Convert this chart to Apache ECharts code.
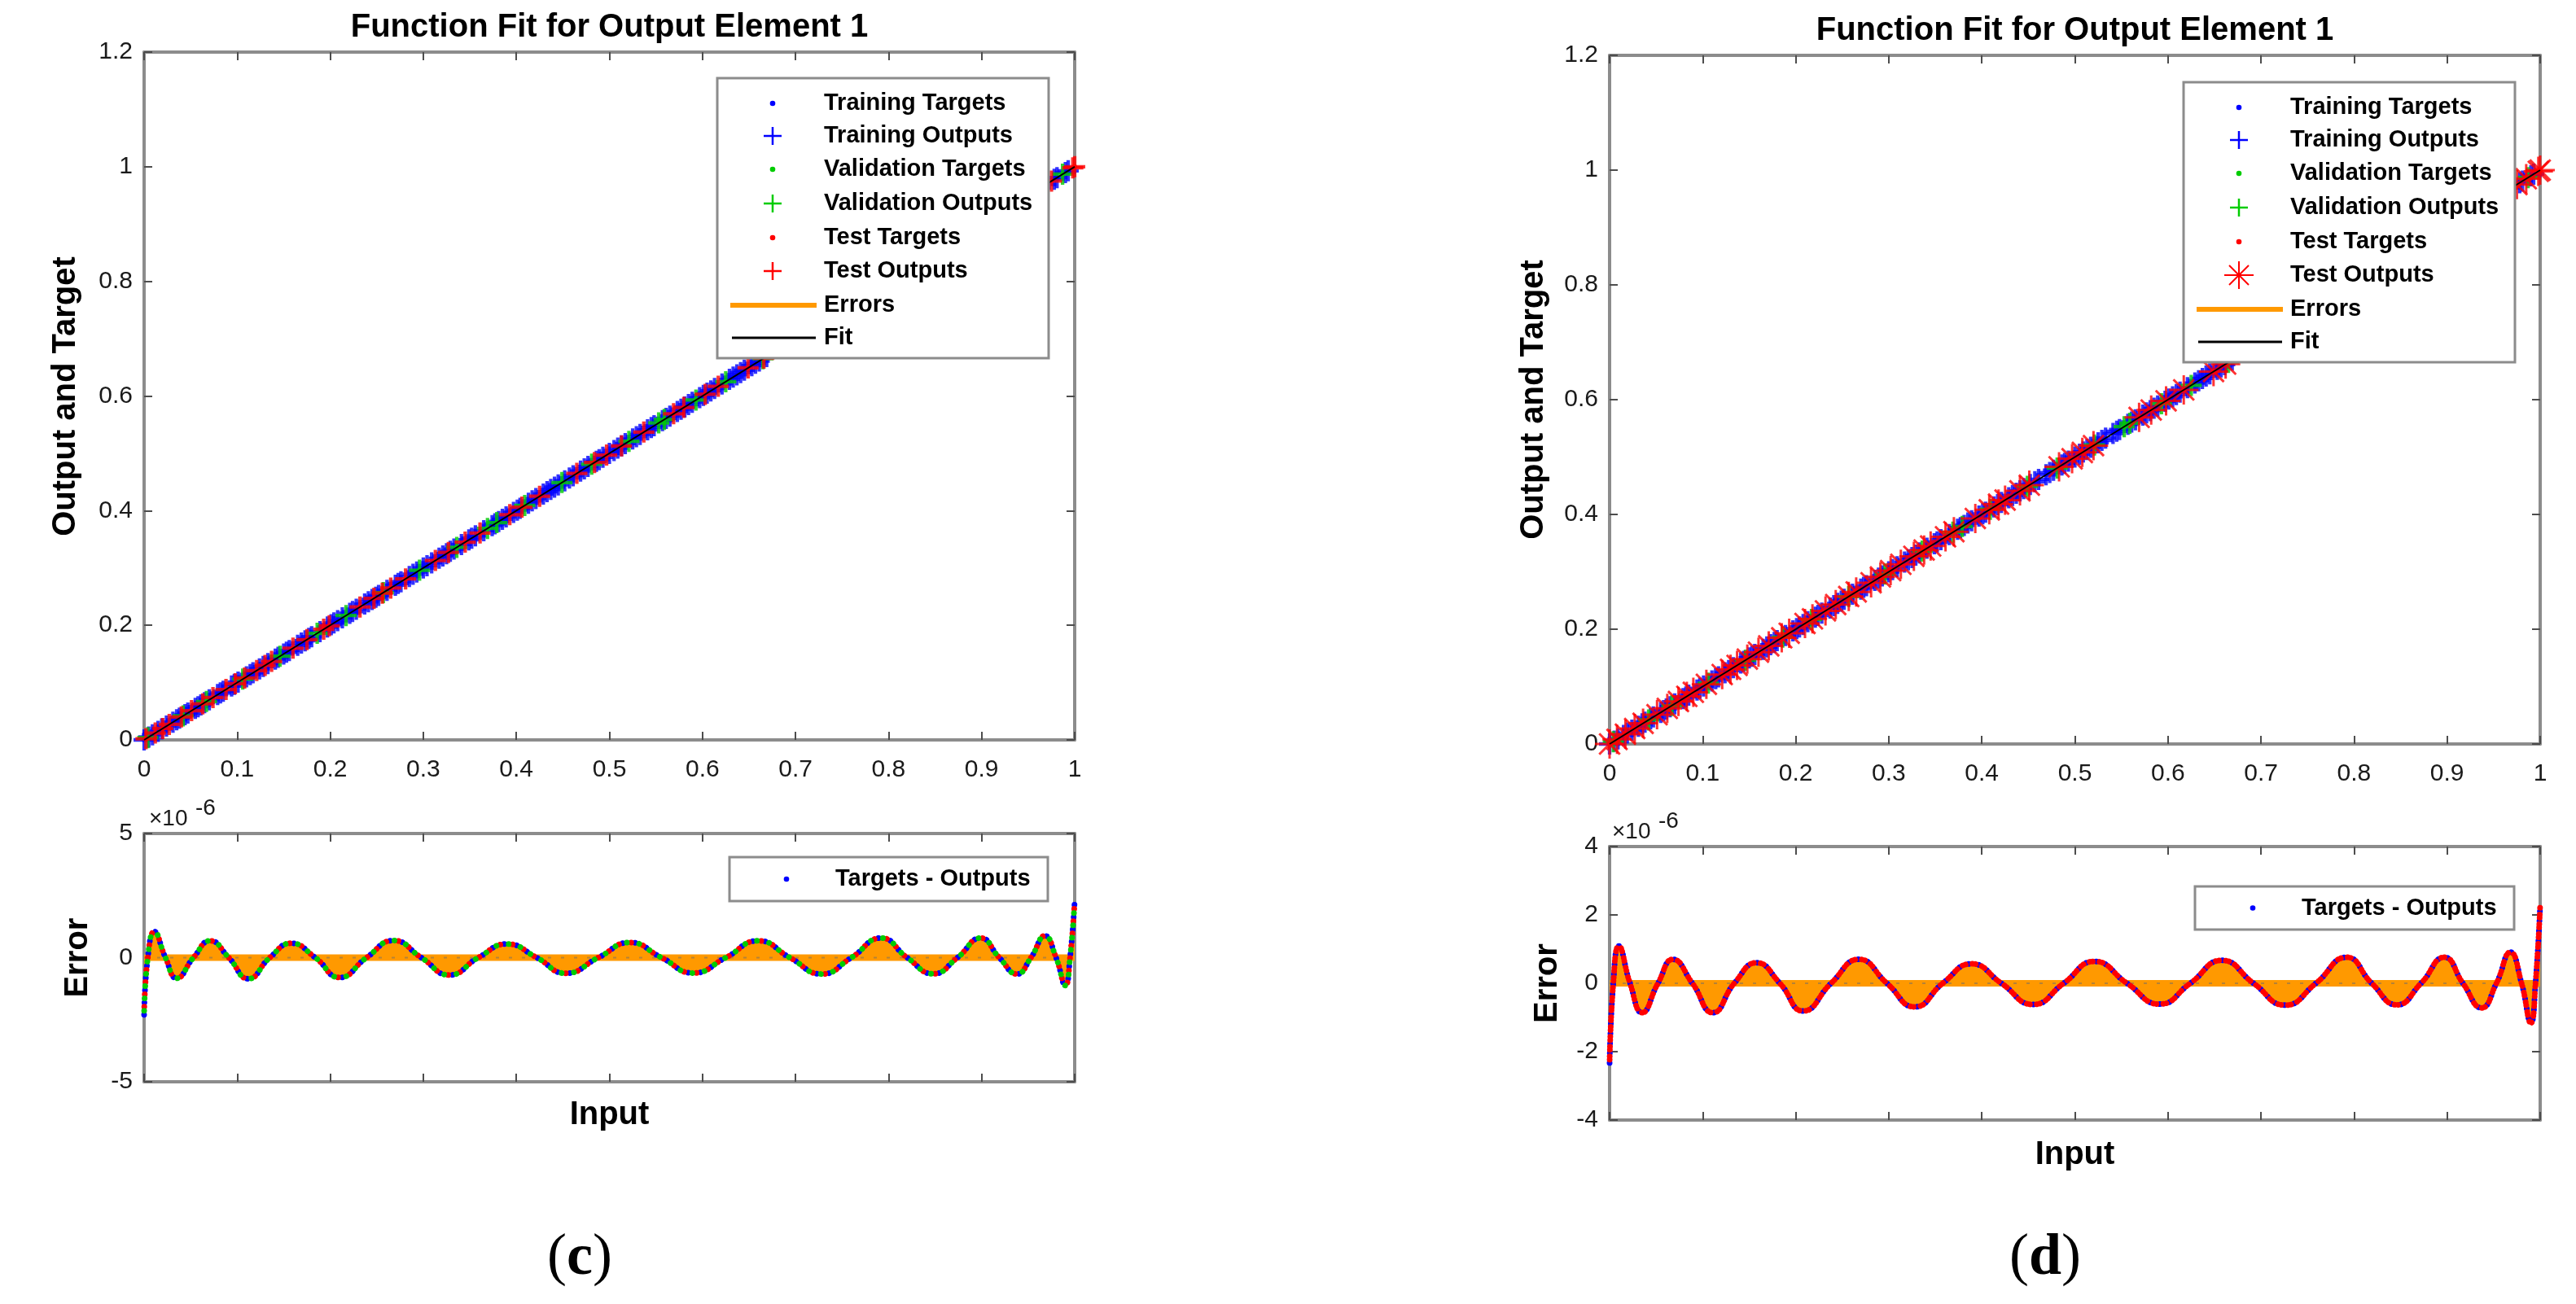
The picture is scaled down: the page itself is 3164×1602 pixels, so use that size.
<!DOCTYPE html>
<html lang="en">
<head>
    <meta charset="UTF-8">
    <title>Function Fit for Output Element 1</title>
    <script src="https://cdn.jsdelivr.net/npm/echarts@6.0.0/dist/echarts.min.js"></script>
    <style>
        body { margin: 0; padding: 0; background: #fff; }
        #chart { width: 3164px; height: 1602px; }
    </style>
</head>
<body>
    <div id="chart"></div>
    <script>
        // ---- data: inputs of each subset (targets equal inputs for this fit) ----
        const trainIn = [0.000, 0.005, 0.009, 0.015, 0.019, 0.024, 0.031, 0.035, 0.038, 0.044, 0.047, 0.055, 0.058, 0.061, 0.065, 0.070, 0.079, 0.082, 0.085, 0.094, 0.097, 0.101, 0.110, 0.114, 0.117, 0.124, 0.128, 0.133, 0.141, 0.144, 0.150, 0.153, 0.156, 0.165, 0.169, 0.173, 0.177, 0.180, 0.189, 0.197, 0.201, 0.204, 0.208, 0.213, 0.221, 0.224, 0.228, 0.237, 0.241, 0.245, 0.249, 0.252, 0.261, 0.270, 0.273, 0.276, 0.285, 0.289, 0.293, 0.300, 0.304, 0.309, 0.317, 0.321, 0.325, 0.329, 0.333, 0.341, 0.349, 0.352, 0.356, 0.365, 0.374, 0.377, 0.381, 0.385, 0.389, 0.397, 0.401, 0.404, 0.413, 0.417, 0.421, 0.429, 0.433, 0.437, 0.441, 0.445, 0.452, 0.457, 0.461, 0.469, 0.473, 0.477, 0.486, 0.489, 0.493, 0.500, 0.505, 0.509, 0.513, 0.517, 0.525, 0.529, 0.533, 0.541, 0.545, 0.548, 0.557, 0.561, 0.565, 0.573, 0.577, 0.581, 0.585, 0.589, 0.597, 0.601, 0.605, 0.609, 0.613, 0.621, 0.629, 0.633, 0.637, 0.641, 0.645, 0.653, 0.657, 0.661, 0.669, 0.685, 0.701, 0.717, 0.733, 0.749, 0.765, 0.781, 0.797, 0.813, 0.829, 0.845, 0.861, 0.877, 0.893, 0.909, 0.925, 0.941, 0.957, 0.963, 0.969, 0.978, 0.981, 0.990, 0.993];
        const valIn = [0.004, 0.042, 0.067, 0.106, 0.146, 0.186, 0.217, 0.257, 0.296, 0.336, 0.369, 0.379, 0.409, 0.449, 0.481, 0.521, 0.553, 0.559, 0.593, 0.625, 0.665, 0.741, 0.853, 0.949, 0.987];
        const testInC = [0.002, 0.012, 0.020, 0.027, 0.040, 0.051, 0.063, 0.074, 0.088, 0.098, 0.108, 0.121, 0.130, 0.137, 0.160, 0.175, 0.193, 0.199, 0.232, 0.247, 0.256, 0.265, 0.281, 0.313, 0.327, 0.345, 0.361, 0.393, 0.406, 0.425, 0.465, 0.484, 0.497, 0.513, 0.537, 0.569, 0.580, 0.603, 0.617, 0.649, 0.666, 0.693, 0.805, 0.917, 0.975, 0.998, 1.000];
        const testInD = [0.000, 0.008, 0.017, 0.027, 0.036, 0.051, 0.062, 0.074, 0.083, 0.090, 0.104, 0.121, 0.130, 0.137, 0.148, 0.160, 0.171, 0.185, 0.193, 0.210, 0.218, 0.232, 0.243, 0.257, 0.265, 0.281, 0.291, 0.302, 0.313, 0.327, 0.338, 0.345, 0.361, 0.370, 0.393, 0.408, 0.418, 0.425, 0.441, 0.451, 0.483, 0.497, 0.508, 0.520, 0.569, 0.582, 0.598, 0.617, 0.649, 0.662, 0.693, 0.805, 0.917, 0.975, 0.985, 0.998, 1.000];

        // ---- error curves (x1e-6), read at extrema and zero crossings ----
        const errXC = [0.000, 0.004, 0.011, 0.023, 0.035, 0.053, 0.071, 0.091, 0.112, 0.135, 0.158, 0.184, 0.210, 0.239, 0.268, 0.298, 0.328, 0.359, 0.390, 0.422, 0.453, 0.488, 0.522, 0.556, 0.590, 0.625, 0.660, 0.694, 0.728, 0.760, 0.792, 0.820, 0.848, 0.874, 0.899, 0.919, 0.938, 0.953, 0.968, 0.980, 0.990, 0.995, 1.000];
        const errYC = [-2.30, 0, 1.05, 0, -0.83, 0, 0.68, 0, -0.85, 0, 0.58, 0, -0.80, 0, 0.69, 0, -0.70, 0, 0.55, 0, -0.63, 0, 0.61, 0, -0.62, 0, 0.68, 0, -0.66, 0, 0.79, 0, -0.65, 0, 0.79, 0, -0.66, 0, 0.88, 0, -1.12, 0, 2.27];
        const errXD = [0.000, 0.004, 0.010, 0.022, 0.035, 0.052, 0.068, 0.089, 0.111, 0.134, 0.158, 0.183, 0.208, 0.238, 0.268, 0.298, 0.328, 0.358, 0.389, 0.421, 0.455, 0.488, 0.521, 0.556, 0.591, 0.624, 0.658, 0.692, 0.726, 0.759, 0.792, 0.819, 0.846, 0.872, 0.897, 0.917, 0.937, 0.953, 0.968, 0.980, 0.990, 0.995, 1.000];
        const errYD = [-2.33, 0, 1.09, 0, -0.86, 0, 0.70, 0, -0.86, 0, 0.60, 0, -0.81, 0, 0.70, 0, -0.69, 0, 0.57, 0, -0.62, 0, 0.64, 0, -0.61, 0, 0.67, 0, -0.64, 0, 0.76, 0, -0.63, 0, 0.76, 0, -0.72, 0, 0.91, 0, -1.16, 0, 2.29];

        // shared
        const fitX = [0, 1];
        const zeroX = [0, 1];
        const xRange = [0, 1, 0.1];
        const yRangeTop = [0, 1.2, 0.2];
        const yRangeErrC = [-5, 5, 5];
        const yRangeErrD = [-4, 4, 2];
        const legendNames = ['Training Targets', 'Training Outputs', 'Validation Targets', 'Validation Outputs', 'Test Targets', 'Test Outputs', 'Errors', 'Fit'];

        const SANS = "'Liberation Sans', Arial, Helvetica, sans-serif";
        const SERIF = "'Liberation Serif', 'DejaVu Serif', serif";
        const BLUE = '#0000ff', GREEN = '#00cc00', RED = '#ff0000', ORANGE = '#ff9900';
        const plusPath = 'path://M-1.8,-11 L1.8,-11 L1.8,-1.8 L11,-1.8 L11,1.8 L1.8,1.8 L1.8,11 L-1.8,11 L-1.8,1.8 L-11,1.8 L-11,-1.8 L-1.8,-1.8 Z';
        const starPath = 'path://M-17,0 L17,0 M0,-17 L0,17 M-12,-12 L12,12 M-12,12 L12,-12';

        const chart = echarts.init(document.getElementById('chart'));

        // grids: 0 = (c) top, 1 = (c) error, 2 = (d) top, 3 = (d) error
        const grids = [
            { left: 177, top: 64, width: 1143, height: 845 },
            { left: 177, top: 1024, width: 1143, height: 305 },
            { left: 1977, top: 68, width: 1143, height: 846 },
            { left: 1977, top: 1040, width: 1143, height: 336 }
        ].map(g => Object.assign({ show: false, containLabel: false, outerBoundsMode: 'none' }, g));

        function axisCommon(range, labels, margin) {
            return {
                type: 'value', min: range[0], max: range[1], interval: range[2],
                axisLine: { show: true, onZero: false, lineStyle: { color: '#8c8c8c', width: 4 } },
                axisTick: { show: true, inside: true, length: 10, lineStyle: { color: '#4d4d4d', width: 2 } },
                axisLabel: { show: labels, color: '#1a1a1a', fontSize: 30, fontFamily: SANS, margin: margin },
                splitLine: { show: false }
            };
        }

        const xAxes = [], yAxes = [];
        [[xRange, yRangeTop, true], [xRange, yRangeErrC, false], [xRange, yRangeTop, true], [xRange, yRangeErrD, false]].forEach((r, g) => {
            xAxes.push(Object.assign(axisCommon(r[0], r[2], 22), { gridIndex: g, position: 'bottom' }));
            xAxes.push(Object.assign(axisCommon(r[0], false, 22), { gridIndex: g, position: 'top' }));
            yAxes.push(Object.assign(axisCommon(r[1], true, 14), { gridIndex: g, position: 'left' }));
            yAxes.push(Object.assign(axisCommon(r[1], false, 14), { gridIndex: g, position: 'right' }));
        });

        function onLine(xs) { return xs.map(v => [v, v]); }

        function scatter(name, xs, g, symbol, size, color, stroke) {
            return {
                name: name, type: 'scatter', xAxisIndex: g * 2, yAxisIndex: g * 2,
                data: onLine(xs), symbol: symbol, symbolSize: size, silent: true,
                itemStyle: stroke ? { color: color, borderColor: color, borderWidth: 3 } : { color: color }
            };
        }

        function fitSeries(g) {
            return {
                name: 'Fit', type: 'line', xAxisIndex: g * 2, yAxisIndex: g * 2,
                data: fitX.map(v => [v, v]), showSymbol: false, silent: true,
                lineStyle: { color: '#000', width: 2 }
            };
        }

        function errorSeries(g, xs, ys, dots) {
            const data = xs.map((x, i) => [x, ys[i]]);
            const ax = { xAxisIndex: g * 2, yAxisIndex: g * 2 };
            const list = [
                Object.assign({
                    name: 'Errors', type: 'line', data: data, smooth: 0.5, showSymbol: false, silent: true,
                    lineStyle: { width: 0, opacity: 0 }, areaStyle: { color: ORANGE, opacity: 1, origin: 0 }
                }, ax),
                Object.assign({
                    name: 'Errors', type: 'line', data: zeroX.map(x => [x, 0]), showSymbol: false, silent: true,
                    lineStyle: { color: ORANGE, width: 8 }
                }, ax),
                Object.assign({
                    name: 'Zero', type: 'line', data: zeroX.map(x => [x, 0]), showSymbol: false, silent: true,
                    lineStyle: { color: '#6b6b6b', width: 2, type: [4, 12], opacity: 0.5 }
                }, ax)
            ];
            dots.forEach(d => {
                list.push(Object.assign({
                    name: 'Targets - Outputs', type: 'line', data: data, smooth: 0.5, showSymbol: false, silent: true,
                    lineStyle: { color: d[0], width: 7, type: [0.1, d[2]], dashOffset: d[1], cap: 'round' }
                }, ax));
            });
            return list;
        }

        const series = [
            fitSeries(0),
            scatter(legendNames[0], trainIn, 0, 'circle', 6, BLUE),
            scatter(legendNames[1], trainIn, 0, plusPath, 26, BLUE),
            scatter(legendNames[2], valIn, 0, 'circle', 6, GREEN),
            scatter(legendNames[3], valIn, 0, plusPath, 26, GREEN),
            scatter(legendNames[4], testInC, 0, 'circle', 6, RED),
            scatter(legendNames[5], testInC, 0, plusPath, 26, RED),
            ...errorSeries(1, errXC, errYC, [[BLUE, 0, 15], [RED, 5, 15], [GREEN, 10, 15]]),
            fitSeries(2),
            scatter(legendNames[0], trainIn, 2, 'circle', 6, BLUE),
            scatter(legendNames[1], trainIn, 2, plusPath, 26, BLUE),
            scatter(legendNames[2], valIn, 2, 'circle', 6, GREEN),
            scatter(legendNames[3], valIn, 2, plusPath, 26, GREEN),
            scatter(legendNames[4], testInD, 2, 'circle', 6, RED),
            scatter(legendNames[5], testInD, 2, starPath, 36, RED, true),
            ...errorSeries(3, errXD, errYD, [[BLUE, 0, 12], [RED, 4, 12], [RED, 8, 12]])
        ];

        // ---- text and legend boxes ----
        function txt(x, y, text, size, opts) {
            opts = opts || {};
            return {
                type: 'text', x: x, y: y, z: 100, rotation: opts.rot || 0, silent: true,
                style: {
                    text: text, fill: opts.color || '#000',
                    font: (opts.weight || 'bold') + ' ' + size + 'px ' + (opts.family || SANS),
                    textAlign: opts.align || 'center', align: opts.align || 'center',
                    textVerticalAlign: 'middle', verticalAlign: 'middle'
                }
            };
        }
        function panelLabel(x, y, letter) {
            return {
                type: 'text', x: x, y: y, z: 100, silent: true,
                style: {
                    text: '{p|(}{l|' + letter + '}{p|)}', fill: '#000',
                    textAlign: 'center', align: 'center', textVerticalAlign: 'middle', verticalAlign: 'middle',
                    rich: {
                        p: { fontSize: 72, fontFamily: SERIF, fontWeight: 'normal', fill: '#000' },
                        l: { fontSize: 72, fontFamily: SERIF, fontWeight: 'bold', fill: '#000' }
                    }
                }
            };
        }
        function seg(x1, y1, x2, y2, color, w) {
            return { type: 'line', z: 101, silent: true, shape: { x1: x1, y1: y1, x2: x2, y2: y2 }, style: { stroke: color, lineWidth: w } };
        }
        function dot(cx, cy, color) {
            return { type: 'circle', z: 101, silent: true, shape: { cx: cx, cy: cy, r: 3.3 }, style: { fill: color } };
        }
        function plus(cx, cy, color) {
            return [seg(cx - 11, cy, cx + 11, cy, color, 2.5), seg(cx, cy - 11, cx, cy + 11, color, 2.5)];
        }
        function star(cx, cy, color) {
            return [seg(cx - 18, cy, cx + 18, cy, color, 2), seg(cx, cy - 17, cx, cy + 17, color, 2),
                seg(cx - 12, cy - 12, cx + 12, cy + 12, color, 2), seg(cx - 12, cy + 12, cx + 12, cy - 12, color, 2)];
        }

        function topLegend(ox, oy, testStar) {
            const rows = [127, 167, 208, 250, 292, 333, 375, 415].map(v => v + oy);
            const sx = 949 + ox, tx = 1012 + ox;
            const els = [{
                type: 'rect', z: 99, silent: true,
                shape: { x: 881 + ox, y: 96 + oy, width: 407, height: 344 },
                style: { fill: '#fff', stroke: '#8c8c8c', lineWidth: 3 }
            }];
            els.push(dot(sx, rows[0], BLUE), ...plus(sx, rows[1], BLUE));
            els.push(dot(sx, rows[2], GREEN), ...plus(sx, rows[3], GREEN));
            els.push(dot(sx, rows[4], RED), ...(testStar ? star(sx, rows[5], RED) : plus(sx, rows[5], RED)));
            els.push(seg(897 + ox, rows[6], 1003 + ox, rows[6], ORANGE, 6));
            els.push(seg(899 + ox, rows[7], 1002 + ox, rows[7], '#000', 3));
            legendNames.forEach((n, i) => els.push(txt(tx, rows[i], n, 29, { align: 'left' })));
            return els;
        }

        function errLegend(x, y, w, h, dx, tx) {
            const cy = y + h / 2;
            return [
                { type: 'rect', z: 99, silent: true, shape: { x: x, y: y, width: w, height: h }, style: { fill: '#fff', stroke: '#8c8c8c', lineWidth: 3 } },
                dot(dx, cy, BLUE),
                txt(tx, cy, 'Targets - Outputs', 29, { align: 'left' })
            ];
        }

        function expLabel(x, y) {
            return [
                txt(x, y, '\u00d710', 28, { align: 'left', weight: 'normal', color: '#1a1a1a' }),
                txt(x + 57, y - 13, '-6', 28, { align: 'left', weight: 'normal', color: '#1a1a1a' })
            ];
        }

        const graphics = [
            txt(748.5, 34, 'Function Fit for Output Element 1', 40),
            txt(2548.5, 38, 'Function Fit for Output Element 1', 40),
            txt(81, 487, 'Output and Target', 40, { rot: Math.PI / 2 }),
            txt(1884, 491, 'Output and Target', 40, { rot: Math.PI / 2 }),
            txt(96, 1176.5, 'Error', 40, { rot: Math.PI / 2 }),
            txt(1901, 1208, 'Error', 40, { rot: Math.PI / 2 }),
            txt(748.5, 1370, 'Input', 40),
            txt(2548.5, 1419, 'Input', 40),
            panelLabel(712, 1546, 'c'),
            panelLabel(2512, 1546, 'd'),
            ...expLabel(183, 1006),
            ...expLabel(1980, 1022),
            ...topLegend(0, 0, false),
            ...topLegend(1801, 5, true),
            ...errLegend(896, 1053, 391, 54, 966, 1026),
            ...errLegend(2696, 1089, 392, 53, 2767, 2827)
        ];

        chart.setOption({
            backgroundColor: '#fff',
            animation: false,
            grid: grids,
            xAxis: xAxes,
            yAxis: yAxes,
            series: series,
            graphic: { elements: graphics }
        });

        window.addEventListener('resize', function () { chart.resize(); });
    </script>
</body>
</html>
